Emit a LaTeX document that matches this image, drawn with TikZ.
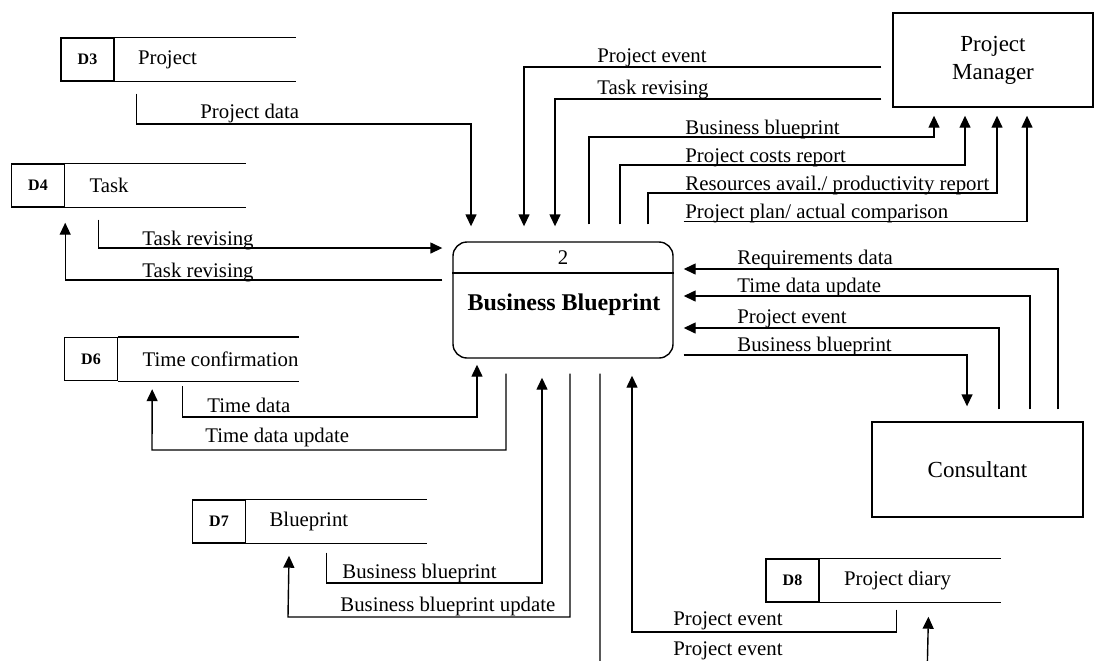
\documentclass[tikz,border=0pt]{standalone}
\usepackage{fontspec}
\setmainfont{Liberation Serif}
\usetikzlibrary{arrows.meta,positioning}

\tikzset{
  procbox/.style={draw, line width=0.7pt, rounded corners=7pt, minimum width=110pt, minimum height=58pt},
  extbox/.style={draw, line width=0.7pt, align=center, font=\fontsize{11.5}{14}\selectfont},
  storeid/.style={draw, line width=0.7pt, minimum width=26.5pt, minimum height=21.5pt, inner sep=0pt, font=\bfseries\fontsize{8}{9}\selectfont},
  storetext/.style={inner sep=0pt, font=\fontsize{10.4}{12}\selectfont},
  storeline/.style={draw, line width=0.7pt},
  lbl/.style={anchor=base west, inner sep=0pt, font=\fontsize{10.4}{12}\selectfont},
  flow/.style={draw, line width=0.7pt, -{Triangle[length=6pt,width=5.5pt]}},
}

\begin{document}
\begin{tikzpicture}[x=0.5pt, y=-0.5pt]
\useasboundingbox (0,0) rectangle (1095,660);
\clip (0,0) rectangle (1095,660);
% process
\node[procbox] (pb) at (563,300) {};
\node[inner sep=0pt, minimum height=15.5pt, anchor=north, font=\fontsize{10.4}{12}\selectfont] (num) at (pb.north) {2};
\draw[storeline] (pb.west |- num.south) -- (pb.east |- num.south);
\node[font=\bfseries\fontsize{12}{14}\selectfont] (pbtitle) at (564,305) {Business Blueprint};
% external entities
\node[extbox, minimum width=100pt, minimum height=47pt] (pm) at (993,60) {Project\\Manager};
\node[extbox, minimum width=105.5pt, minimum height=47.5pt] (cons) at (977.5,469.5) {Consultant};
% data stores
\node[storeid] (d3id) at (87.5,59.5) {D3};
\node[storetext, right=11.5pt of d3id] (d3) {Project};
\node[storeid] (d4id) at (38,185.5) {D4};
\node[storetext, right=12pt of d4id] (d4) {Task};
\node[storeid] (d6id) at (91,359) {D6};
\node[storetext, right=12pt of d6id] (d6) {Time confirmation};
\node[storeid] (d7id) at (219,521.5) {D7};
\node[storetext, right=11.5pt of d7id] (d7) {Blueprint};
\node[storeid] (d8id) at (792.5,580.5) {D8};
\node[storetext, right=12pt of d8id] (d8) {Project diary};
\foreach \s in {d3id,d4id,d6id,d7id,d8id}
  \draw[storeline] (\s.north east) -- ++(181,0) (\s.south east) -- ++(181,0);
% flows with the project manager
\draw[flow, shorten <=5.5pt, shorten >=7.5pt] ([yshift=-3.5pt]pm.west) -| (pb.north -| 524,0);
\draw[flow, shorten <=5.5pt, shorten >=7.5pt] ([yshift=-19.5pt]pm.west) -| (pb.north -| 555,0);
\draw[flow, shorten <=8.5pt, shorten >=4pt] (pb.north -| 589,0) |- (934,137) -- (pm.south -| 934,0);
\draw[flow, shorten <=8.5pt, shorten >=4pt] (pb.north -| 620,0) |- (965,165) -- (pm.south -| 965,0);
\draw[flow, shorten <=8.5pt, shorten >=4pt] (pb.north -| 648,0) |- (997,193) -- (pm.south -| 997,0);
\draw[flow, shorten >=4pt] ([xshift=5pt,yshift=10pt]pb.north east) -| (pm.south -| 1027,0);
% flows with the stores on the left
\draw[flow, shorten >=7.5pt] ([xshift=11pt,yshift=-6pt]d3id.south east) |- (471,124) -- (pb.north -| 471,0);
\draw[flow, shorten >=5pt] ([xshift=16.5pt,yshift=-6pt]d4id.south east) |- (pb.west |- 0,248);
\draw[flow, shorten <=5pt, shorten >=7.5pt] (pb.west |- 0,280) -| (d4id.south east);
\draw[flow, shorten >=3pt] ([xshift=32pt,yshift=-2.5pt]d6id.south east) |- (477,417) -- (pb.south -| 477,0);
\draw[flow, shorten <=7.5pt, shorten >=4pt] (pb.south -| 506,0) |- (152,450) -- ([xshift=17pt]d6id.south east);
\draw[flow, shorten >=9.5pt] ([xshift=40pt,yshift=-4.5pt]d7id.south east) |- (542,583) -- (pb.south -| 542,0);
\draw[flow, shorten <=7.5pt, shorten >=6pt] (pb.south -| 570,0) |- (288,617) -- ([xshift=21.5pt]d7id.south east);
% flows with the project diary
\draw[flow, shorten <=7.5pt, shorten >=7pt] (pb.south -| 600,0) |- (927,680) -- ([xshift=54.5pt]d8id.south east);
\draw[flow, shorten >=8.5pt] ([xshift=38.5pt,yshift=-3.5pt]d8id.south east) |- (632,632) -- (pb.south -| 632,0);
% flows with the consultant
\draw[flow, shorten >=5pt] ([xshift=40.25pt,yshift=6pt]cons.north) |- (pb.east |- 0,269);
\draw[flow, shorten >=5pt] ([xshift=26.25pt,yshift=6pt]cons.north) |- (pb.east |- 0,296);
\draw[flow, shorten >=5pt] ([xshift=10.75pt,yshift=6pt]cons.north) |- (pb.east |- 0,328);
\draw[flow, shorten <=5pt, shorten >=7.5pt] (pb.east |- 0,355) -| (cons.north -| 967,0);
% labels
\node[lbl] (l1) at (597,62) {Project event};
\node[lbl] (l2) at (597,94) {Task revising};
\node[lbl] (l3) at (200,118) {Project data};
\node[lbl] (l4) at (685,134) {Business blueprint};
\node[lbl] (l5) at (685,162) {Project costs report};
\node[lbl] (l6) at (685,190) {Resources avail./ productivity report};
\node[lbl] (l7) at (685,218) {Project plan/ actual comparison};
\node[lbl] (l8) at (142,245) {Task revising};
\node[lbl] (l9) at (142,277) {Task revising};
\node[lbl] (l10) at (737,264) {Requirements data};
\node[lbl] (l11) at (737,292) {Time data update};
\node[lbl] (l12) at (737,323) {Project event};
\node[lbl] (l13) at (737,351) {Business blueprint};
\node[lbl] (l14) at (207,412) {Time data};
\node[lbl] (l15) at (205,442) {Time data update};
\node[lbl] (l16) at (342,578) {Business blueprint};
\node[lbl] (l17) at (340,611) {Business blueprint update};
\node[lbl] (l18) at (673,625) {Project event};
\node[lbl] (l19) at (673,655) {Project event};
\end{tikzpicture}
\end{document}
